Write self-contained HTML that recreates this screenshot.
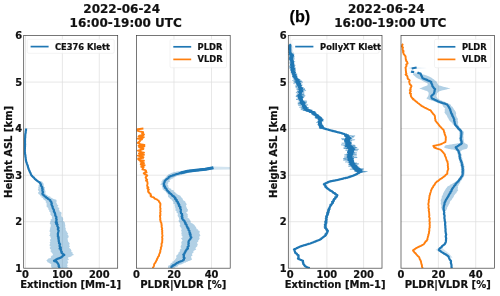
<!DOCTYPE html>
<html><head><meta charset="utf-8"><title>Lidar profiles 2022-06-24</title>
<style>html,body{margin:0;padding:0;background:#fff}svg{display:block}</style></head>
<body>
<svg width="500" height="296" viewBox="0 0 500 296">
<rect width="500" height="296" fill="#ffffff"/>
<defs>
<clipPath id="c0"><rect x="23.7" y="35.6" width="94.0" height="232.6"/></clipPath>
<clipPath id="c1"><rect x="136.5" y="35.6" width="93.7" height="232.6"/></clipPath>
<clipPath id="c2"><rect x="288.3" y="35.6" width="93.7" height="232.6"/></clipPath>
<clipPath id="c3"><rect x="401.0" y="35.6" width="93.4" height="232.6"/></clipPath>
</defs>
<g stroke="#dedede" stroke-width="0.7"><line x1="23.7" y1="221.7" x2="117.7" y2="221.7"/><line x1="23.7" y1="175.2" x2="117.7" y2="175.2"/><line x1="23.7" y1="128.6" x2="117.7" y2="128.6"/><line x1="23.7" y1="82.1" x2="117.7" y2="82.1"/><line x1="25.5" y1="35.6" x2="25.5" y2="268.2"/><line x1="62.4" y1="35.6" x2="62.4" y2="268.2"/><line x1="99.3" y1="35.6" x2="99.3" y2="268.2"/></g>
<g stroke="#dedede" stroke-width="0.7"><line x1="136.5" y1="221.7" x2="230.2" y2="221.7"/><line x1="136.5" y1="175.2" x2="230.2" y2="175.2"/><line x1="136.5" y1="128.6" x2="230.2" y2="128.6"/><line x1="136.5" y1="82.1" x2="230.2" y2="82.1"/><line x1="174.0" y1="35.6" x2="174.0" y2="268.2"/><line x1="211.5" y1="35.6" x2="211.5" y2="268.2"/></g>
<g stroke="#dedede" stroke-width="0.7"><line x1="288.3" y1="221.7" x2="382.0" y2="221.7"/><line x1="288.3" y1="175.2" x2="382.0" y2="175.2"/><line x1="288.3" y1="128.6" x2="382.0" y2="128.6"/><line x1="288.3" y1="82.1" x2="382.0" y2="82.1"/><line x1="290.1" y1="35.6" x2="290.1" y2="268.2"/><line x1="326.9" y1="35.6" x2="326.9" y2="268.2"/><line x1="363.6" y1="35.6" x2="363.6" y2="268.2"/></g>
<g stroke="#dedede" stroke-width="0.7"><line x1="401.0" y1="221.7" x2="494.4" y2="221.7"/><line x1="401.0" y1="175.2" x2="494.4" y2="175.2"/><line x1="401.0" y1="128.6" x2="494.4" y2="128.6"/><line x1="401.0" y1="82.1" x2="494.4" y2="82.1"/><line x1="438.4" y1="35.6" x2="438.4" y2="268.2"/><line x1="475.7" y1="35.6" x2="475.7" y2="268.2"/></g>
<g clip-path="url(#c0)">
<polygon points="39.5,181.0 39.0,181.8 39.7,182.7 38.5,183.5 39.3,184.3 38.9,185.1 38.2,185.9 38.9,186.7 38.0,187.5 38.6,188.3 37.9,189.2 38.0,190.0 38.6,190.9 39.3,191.7 38.0,192.6 38.2,193.4 38.9,194.3 40.2,194.9 40.2,195.5 40.5,196.2 42.2,196.8 41.2,197.4 43.3,198.0 43.0,198.6 43.4,199.2 44.0,199.8 45.1,200.4 46.2,201.2 45.3,201.9 46.3,202.7 46.7,203.4 46.4,204.2 47.0,205.0 46.4,205.7 46.6,206.5 47.2,207.3 48.4,208.0 48.2,208.8 48.4,209.6 49.2,210.3 49.3,211.1 49.3,211.8 50.5,212.6 50.6,213.4 50.1,214.2 51.0,215.0 51.2,215.7 52.1,216.5 52.1,217.3 51.6,218.1 52.5,218.8 50.5,219.6 50.7,220.3 50.9,221.1 49.8,221.9 50.4,222.8 49.6,223.6 50.7,224.5 50.9,225.3 50.5,226.2 50.9,227.0 49.7,227.9 50.3,228.8 49.9,229.6 49.7,230.5 49.3,231.3 50.1,232.1 50.4,233.0 49.7,233.8 50.1,234.6 49.1,235.5 50.4,236.3 50.3,237.2 51.0,238.0 50.8,238.9 49.8,239.8 50.1,240.7 50.6,241.5 49.5,242.4 50.3,243.3 49.8,244.1 49.7,245.0 49.6,245.9 50.9,246.8 49.7,247.6 49.9,248.5 50.4,249.3 51.5,250.1 50.2,251.0 51.1,251.8 51.5,252.6 52.5,253.4 52.7,254.2 53.2,255.0 51.6,255.7 51.3,256.3 50.7,257.0 51.1,257.6 50.6,258.1 48.4,258.6 47.8,259.1 47.3,259.7 46.6,260.2 46.4,260.7 47.2,261.2 47.3,261.7 47.5,262.2 48.9,262.7 49.5,263.2 50.5,263.7 51.4,264.6 51.1,265.4 51.0,266.3 51.4,267.1 51.7,268.0 69.1,268.0 67.2,267.1 67.2,266.3 67.7,265.4 67.1,264.6 67.4,263.7 68.2,262.7 68.1,261.7 67.1,260.7 68.5,259.9 68.9,259.1 67.8,258.4 68.0,257.6 68.8,257.2 70.6,256.7 71.7,256.3 71.5,255.9 72.2,255.4 73.9,255.0 73.4,254.2 72.3,253.4 72.8,252.6 71.3,251.9 71.4,251.2 71.5,250.6 71.1,249.9 70.9,249.2 70.0,248.5 68.8,247.6 70.0,246.8 69.5,245.9 69.1,245.0 69.6,244.1 69.6,243.3 68.9,242.4 68.0,241.5 67.9,240.7 67.8,239.8 67.6,238.9 67.7,238.0 68.7,237.2 68.6,236.3 68.4,235.5 67.4,234.6 68.2,233.8 67.6,233.0 66.8,232.1 66.7,231.3 65.9,230.5 65.6,229.6 65.8,228.8 65.7,227.9 64.9,227.0 65.4,226.2 65.3,225.3 65.1,224.5 64.9,223.6 64.9,222.8 64.4,221.9 63.1,221.1 63.0,220.1 63.4,219.1 62.7,218.1 62.8,217.3 61.4,216.5 61.5,215.7 61.0,215.0 61.5,214.2 61.5,213.4 61.5,212.6 60.3,211.8 59.1,211.1 59.7,210.3 58.7,209.6 59.1,208.8 59.5,208.0 57.6,207.3 57.5,206.5 58.5,205.6 57.2,204.8 57.1,203.9 56.5,203.0 56.2,202.1 56.7,201.3 56.4,200.4 56.6,200.0 55.6,199.5 53.5,199.1 53.1,198.7 52.3,198.3 51.3,197.8 50.4,197.4 50.4,196.9 50.1,196.4 47.8,195.9 47.7,195.3 46.4,194.8 45.8,194.3 45.4,193.4 45.3,192.6 45.7,191.7 45.2,190.9 45.2,190.0 44.8,189.2 44.6,188.3 45.2,187.5 43.8,186.7 43.9,185.9 43.5,185.1 43.8,184.3 43.5,183.5 42.7,182.7 42.3,181.8 40.2,181.0" fill="#1f77b4" fill-opacity="0.35" stroke="none"/>
<polyline points="26.1,128.5 26.0,129.4 26.0,130.3 25.7,131.2 25.7,132.2 25.6,133.1 25.3,134.0 25.3,134.9 25.2,135.8 25.2,136.7 25.2,137.6 25.0,138.5 25.0,139.4 24.9,140.3 25.1,141.1 24.9,141.9 25.0,142.7 25.0,143.6 25.1,144.4 24.9,145.2 25.1,146.0 24.9,146.8 24.9,147.6 24.9,148.4 24.8,149.2 24.9,150.1 24.8,150.9 24.8,151.7 25.0,152.5 24.9,153.3 25.1,154.1 25.3,154.9 25.4,155.7 25.4,156.6 25.6,157.4 25.7,158.2 25.9,159.0 25.8,159.8 26.0,160.6 26.2,161.4 26.4,162.2 26.8,163.0 27.0,163.8 27.3,164.6 27.6,165.5 27.9,166.3 28.0,167.1 28.3,167.9 28.5,168.7 28.8,169.5 29.2,170.3 29.5,171.1 29.9,171.9 30.2,172.7 30.7,173.5 30.9,174.3 31.3,175.1 31.9,175.7 32.3,176.2 32.9,176.8 33.6,177.4 34.2,178.0 34.5,178.5 35.1,179.1 35.8,179.6 36.3,180.1 37.0,180.6 37.6,181.1 38.4,181.7 39.1,182.2 39.8,182.7 40.2,183.2 40.7,184.0 41.0,184.9 41.0,185.8 41.9,186.6 42.3,187.5 42.1,188.3 42.7,189.2 42.3,190.0 42.5,190.9 42.9,191.7 42.9,192.6 42.4,193.4 42.6,194.3 43.3,194.8 43.8,195.3 44.3,195.9 45.0,196.4 46.0,196.9 46.0,197.4 47.1,197.9 47.7,198.4 48.0,198.9 48.9,199.4 49.8,199.9 50.4,200.4 50.3,201.2 51.3,201.9 51.4,202.7 51.8,203.4 51.4,204.2 51.8,205.0 51.9,205.7 52.7,206.5 52.6,207.3 52.7,208.0 53.2,208.8 53.8,209.6 54.0,210.3 53.8,211.1 54.0,211.8 54.8,212.6 54.9,213.4 55.3,214.3 55.2,215.1 55.5,216.0 56.3,216.8 56.4,217.7 56.1,218.6 56.7,219.6 56.3,220.5 56.6,221.4 55.7,222.2 57.1,223.0 56.1,223.8 57.6,224.6 57.2,225.4 57.3,226.2 57.8,227.0 58.6,227.9 57.9,228.8 57.9,229.6 58.7,230.5 58.5,231.3 58.2,232.1 58.1,233.0 57.8,233.8 57.9,234.6 58.0,235.5 57.8,236.3 58.7,237.2 58.2,238.0 58.7,238.9 58.5,239.8 58.9,240.7 58.7,241.5 59.2,242.4 59.0,243.3 60.1,244.1 59.9,245.0 59.5,245.9 60.0,246.8 60.8,247.6 59.6,248.5 61.0,249.3 60.7,250.1 61.0,251.0 61.8,251.8 61.4,252.6 62.3,253.4 63.2,254.2 64.3,255.0 62.6,255.7 62.6,256.3 61.7,257.0 60.8,257.6 59.7,258.0 58.8,258.4 57.6,258.8 57.0,259.1 56.1,259.5 56.4,259.9 54.9,260.3 54.0,260.7 54.5,261.2 56.3,261.7 57.1,262.2 57.4,262.7 57.5,263.2 58.1,263.7 58.4,264.6 58.9,265.4 58.6,266.3 59.3,267.1 59.2,268.0" fill="none" stroke="#1f77b4" stroke-width="2.2" stroke-linejoin="round" stroke-linecap="butt" />
</g>
<g clip-path="url(#c1)">
<polygon points="184.8,170.6 184.0,170.7 182.3,170.8 180.9,171.0 181.3,171.1 179.3,171.2 178.5,171.3 177.0,171.5 176.8,171.6 176.1,171.8 175.2,172.1 173.8,172.3 173.4,172.6 171.6,172.8 171.3,173.2 170.3,173.5 170.1,173.8 168.7,174.2 168.0,174.7 167.8,175.2 167.0,175.6 167.0,176.1 166.3,176.6 166.0,177.2 165.2,177.8 164.6,178.4 164.3,179.0 162.8,179.6 162.0,180.2 162.9,181.0 161.1,181.8 161.8,182.6 161.4,183.4 160.0,184.2 161.7,185.0 162.1,185.8 161.9,186.7 162.4,187.5 162.9,188.3 162.2,189.0 163.5,189.7 164.0,190.4 165.2,191.0 165.7,191.7 166.3,192.4 166.5,193.1 167.5,193.8 167.7,194.6 168.2,195.3 167.9,196.0 168.1,196.8 168.8,197.5 169.8,198.1 169.8,198.8 171.6,199.4 171.7,200.1 172.3,200.7 172.8,201.3 173.4,202.0 173.6,202.6 173.0,203.4 174.6,204.1 174.8,204.9 174.6,205.6 174.9,206.4 175.4,207.2 174.6,207.9 176.0,208.7 175.4,209.5 175.3,210.2 175.9,211.0 177.0,211.8 176.3,212.5 177.5,213.3 178.2,214.0 177.6,214.8 177.6,215.6 178.0,216.5 178.6,217.3 179.0,218.1 179.0,219.0 179.3,219.8 178.5,220.6 178.8,221.4 179.2,222.2 180.3,223.0 179.7,223.8 180.4,224.6 179.6,225.4 179.9,226.2 180.4,227.1 181.3,227.9 181.5,228.8 181.6,229.7 181.0,230.6 181.6,231.4 181.6,232.3 181.6,233.2 181.0,234.0 182.4,234.9 181.2,235.7 182.6,236.6 182.5,237.4 180.8,238.2 181.6,239.1 182.3,239.9 182.5,240.7 181.6,241.6 181.3,242.4 181.0,243.3 182.2,244.1 180.8,245.0 181.3,245.9 180.3,246.8 180.9,247.6 181.5,248.5 179.7,249.3 180.5,250.0 179.6,250.8 179.8,251.6 179.1,252.3 177.9,253.1 178.7,253.8 177.6,254.6 176.4,255.4 176.0,256.3 176.6,257.1 176.2,258.0 175.6,258.8 175.0,259.7 174.7,260.2 173.9,260.7 174.2,261.2 172.0,261.7 172.7,262.2 172.2,262.7 170.3,263.3 171.1,263.9 170.1,264.6 169.8,265.2 168.1,265.8 168.1,266.9 167.9,268.0 174.1,268.0 175.2,267.4 175.5,266.9 177.7,266.4 177.9,265.8 178.2,265.5 178.7,265.1 179.4,264.8 180.7,264.4 182.4,264.1 182.0,263.7 183.6,263.4 183.4,263.0 184.2,262.7 186.1,262.4 185.9,262.0 187.9,261.7 187.3,261.4 188.7,261.0 189.9,260.7 190.8,260.4 190.5,260.0 192.1,259.7 191.7,258.8 191.5,258.0 191.0,257.1 191.3,256.3 192.6,255.4 192.1,254.6 191.8,253.9 192.6,253.2 193.5,252.6 193.6,251.9 193.2,251.2 194.2,250.5 195.4,249.9 196.3,249.2 195.4,248.5 195.7,247.7 196.4,247.0 197.3,246.2 197.2,245.4 198.0,244.7 197.3,243.9 197.3,243.2 197.0,242.4 198.4,241.6 198.1,240.7 198.7,239.9 199.4,239.1 199.7,238.2 199.2,237.4 199.3,236.6 200.4,235.7 200.2,234.9 199.6,234.0 199.3,233.2 199.6,232.3 199.7,231.6 199.6,230.9 197.8,230.3 198.2,229.6 196.3,228.9 196.7,228.2 196.0,227.6 195.9,226.9 195.2,226.2 194.7,225.6 194.5,224.9 193.5,224.3 192.6,223.6 191.3,223.0 190.7,222.4 190.3,221.7 191.0,221.1 190.2,220.4 189.6,219.8 189.5,219.0 188.2,218.1 187.2,217.3 188.0,216.5 187.5,215.6 187.9,214.8 187.6,213.9 186.4,213.1 186.3,212.2 187.9,211.3 187.8,210.4 188.0,209.6 187.1,208.7 186.8,207.8 186.3,207.0 186.2,206.1 185.9,205.2 186.9,204.3 186.2,203.5 185.8,202.6 184.6,202.0 185.6,201.3 183.9,200.7 183.0,200.1 182.9,199.4 182.5,198.8 182.3,198.1 181.5,197.5 180.9,196.9 180.8,196.4 180.4,195.8 179.2,195.3 178.0,194.8 177.3,194.2 176.4,193.7 176.2,193.1 175.1,192.6 174.6,192.1 173.8,191.7 173.7,191.2 174.0,190.7 173.2,190.2 171.3,189.7 171.1,189.3 171.2,188.8 169.3,188.3 168.8,187.5 168.3,186.7 168.3,185.8 168.1,185.0 167.2,184.2 168.3,183.4 168.0,182.6 169.8,181.8 169.8,181.0 169.4,180.2 170.2,179.8 171.2,179.3 171.3,178.8 173.4,178.4 172.6,177.9 173.7,177.5 175.0,177.0 176.0,176.6 176.2,176.3 177.6,176.1 177.2,175.8 179.2,175.5 179.8,175.3 181.3,175.0 182.1,174.7 182.4,174.5 183.6,174.2 184.5,174.0 185.5,173.8 185.3,173.6 185.9,173.4 187.3,173.2 187.7,173.0 188.5,172.8 190.6,172.6 190.3,172.5 192.2,172.3 191.7,172.1 192.5,171.9 193.7,171.8 194.9,171.6 195.7,171.3 197.2,170.9 198.9,170.6" fill="#1f77b4" fill-opacity="0.35" stroke="none"/>
<polyline points="143.4,128.5 137.6,129.2 137.1,129.9 137.2,130.7 139.6,131.4 143.2,132.1 143.1,132.8 142.1,133.6 144.0,134.3 143.6,135.0 139.4,135.7 138.5,136.4 143.8,137.1 142.5,137.9 137.5,138.6 142.0,139.3 140.1,140.0 140.1,140.7 139.8,141.4 138.7,142.1 137.6,142.9 139.6,143.6 140.1,144.3 144.4,145.0 138.5,145.7 144.4,146.4 139.1,147.1 140.1,147.8 143.4,148.5 143.3,149.2 140.6,149.9 137.9,150.6 140.8,151.3 140.1,152.0 144.0,152.7 138.9,153.5 140.2,154.2 144.0,154.9 137.9,155.6 140.6,156.4 143.5,157.1 143.2,157.8 138.2,158.5 138.2,159.3 139.1,160.0 143.9,160.8 140.3,161.5 143.1,162.3 144.0,163.1 141.0,163.8 140.7,164.6 144.6,165.3 142.8,166.1 141.2,166.8 143.6,167.4 142.7,168.1 142.9,168.8 142.4,169.4 145.4,170.1 146.1,170.9 145.4,171.7 146.6,172.4 143.7,173.2 144.6,174.0 145.5,174.7 147.3,175.4 146.7,176.2 145.8,176.9 145.6,177.6 146.1,178.3 146.3,179.1 147.2,179.8 146.0,180.6 147.2,181.3 147.3,182.1 147.5,182.8 147.6,183.6 147.4,184.3 147.1,185.1 147.2,185.8 147.5,186.6 148.4,187.4 147.3,188.1 147.7,188.9 148.9,189.6 148.1,190.4 148.1,191.1 148.2,191.9 149.4,192.6 149.3,193.3 150.7,194.0 150.7,194.8 151.2,195.5 150.5,195.9 150.9,196.4 151.6,196.8 153.0,197.2 154.0,197.7 154.2,198.1 154.5,198.5 155.5,198.9 156.6,199.3 157.3,199.8 157.9,200.2 158.6,200.6 158.9,201.2 159.0,201.8 159.8,202.4 159.9,203.0 160.4,203.6 160.3,204.3 160.5,205.0 160.2,205.7 160.2,206.4 160.2,207.1 160.2,207.9 160.6,208.6 160.4,209.3 160.3,210.0 160.3,210.7 160.7,211.4 160.3,212.2 160.1,212.9 160.4,213.7 160.3,214.4 160.5,215.1 159.9,215.9 160.1,216.6 160.2,217.4 160.2,218.1 160.4,218.9 160.1,219.6 160.4,220.4 160.5,221.1 160.7,221.9 161.3,222.7 161.3,223.4 161.7,224.2 161.4,224.9 161.8,225.7 161.6,226.4 161.6,227.1 162.0,227.9 162.2,228.6 161.8,229.4 162.2,230.1 162.3,230.8 162.1,231.6 162.3,232.3 162.2,233.0 162.2,233.8 162.3,234.5 162.5,235.2 162.5,236.0 162.2,236.7 162.1,237.5 162.3,238.2 162.5,238.9 162.2,239.7 162.3,240.4 162.1,241.2 162.3,241.9 162.1,242.7 161.6,243.4 161.5,244.2 161.6,245.0 161.6,245.7 161.5,246.5 161.0,247.3 160.8,248.0 161.0,248.8 160.6,249.6 160.4,250.3 160.2,251.1 160.4,251.8 159.9,252.6 159.8,253.3 159.3,254.0 159.1,254.6 159.1,255.3 158.9,256.0 158.2,256.7 157.8,257.3 157.8,258.0 157.2,258.7 156.8,259.3 157.0,259.9 156.3,260.6 156.2,261.2 155.7,261.8 155.6,262.4 155.0,263.1 154.5,263.7 154.1,264.4 154.1,265.1 153.9,265.9 153.7,266.6 153.0,267.3 153.0,268.0" fill="none" stroke="#ff7f0e" stroke-width="1.9" stroke-linejoin="round" stroke-linecap="butt" />
<polygon points="186,170.6 213,166.4 230,167.0 230,169.6 214,169.8 198,171.2" fill="#1f77b4" fill-opacity="0.2"/>
<polyline points="213.4,167.7 205.3,169.2 196.0,170.2 187.5,171.3 181.0,172.9" fill="none" stroke="#1f77b4" stroke-width="3.0" stroke-linejoin="round" stroke-linecap="butt" />
<polyline points="213.2,167.7 212.6,167.9 211.4,168.0 210.7,168.2 210.2,168.3 209.9,168.5 208.1,168.7 207.7,168.8 207.3,169.0 206.7,169.1 204.9,169.3 204.0,169.4 204.2,169.5 203.4,169.6 202.0,169.6 200.7,169.7 201.0,169.8 199.5,169.9 199.3,170.0 198.2,170.1 197.6,170.2 196.0,170.2 195.9,170.3 194.4,170.4 193.9,170.5 193.6,170.6 192.7,170.7 191.2,170.8 190.4,170.9 189.8,170.9 189.1,171.0 188.2,171.1 187.0,171.2 186.4,171.4 186.1,171.6 185.5,171.8 183.7,172.1 183.5,172.3 182.9,172.5 181.2,172.7 181.4,172.9 179.7,173.1 179.5,173.3 178.6,173.6 177.9,173.8 176.7,174.0 176.0,174.2 175.4,174.5 174.4,174.8 173.9,175.1 172.8,175.4 172.0,175.7 170.7,176.0 170.6,176.3 169.6,176.6 168.6,177.2 168.6,177.8 167.9,178.4 166.9,179.0 165.9,179.6 165.6,180.2 164.8,181.0 164.5,181.8 164.5,182.6 163.8,183.4 163.8,184.2 164.3,185.0 164.0,185.8 165.1,186.7 164.8,187.5 165.9,188.3 166.5,189.0 166.8,189.7 166.8,190.4 167.9,191.0 168.3,191.7 169.6,192.4 169.2,193.1 170.6,193.7 171.4,194.2 171.7,194.8 172.4,195.3 172.3,195.8 173.9,196.4 173.9,196.9 175.0,197.5 175.5,198.2 175.0,198.8 176.2,199.5 176.8,200.1 176.3,200.8 177.1,201.4 178.0,202.1 177.6,202.8 178.8,203.6 178.4,204.3 179.4,205.0 178.9,205.8 179.7,206.5 180.5,207.2 180.0,208.0 180.4,208.7 180.9,209.6 180.8,210.4 180.6,211.3 180.9,212.2 181.0,213.1 182.1,213.9 181.9,214.8 182.3,215.6 181.6,216.5 182.5,217.3 181.9,218.1 182.6,219.0 182.9,219.8 183.5,220.1 184.5,220.9 184.5,221.6 185.0,222.4 185.7,223.1 185.2,223.9 186.6,224.7 186.6,225.4 186.7,226.2 187.5,227.0 187.3,227.7 188.5,228.5 188.4,229.2 188.5,230.0 189.4,230.8 189.4,231.5 189.4,232.3 190.3,233.2 189.6,234.0 190.7,234.9 190.2,235.7 190.8,236.6 191.4,237.4 190.6,238.2 190.3,239.1 189.6,239.9 188.9,240.7 188.6,241.6 188.4,242.4 188.8,243.3 188.4,244.1 188.4,245.0 188.7,245.9 187.6,246.8 187.6,247.6 188.0,248.5 186.8,249.2 186.3,249.9 186.3,250.5 185.5,251.2 185.4,251.9 184.7,252.6 184.7,253.2 184.3,253.9 183.3,254.6 183.9,255.4 183.9,256.3 183.6,257.1 184.6,258.0 183.9,258.8 183.9,259.7 183.1,260.0 183.0,260.4 182.5,260.7 181.7,261.0 180.5,261.4 179.6,261.7 178.5,262.0 178.5,262.4 177.7,262.7 176.7,263.1 176.3,263.6 175.4,264.0 175.3,264.5 174.3,264.9 173.0,265.4 173.1,265.8 171.5,266.5 171.5,267.3 170.8,268.0" fill="none" stroke="#1f77b4" stroke-width="2.2" stroke-linejoin="round" stroke-linecap="butt" />
</g>
<g clip-path="url(#c2)">
<polyline points="288.3,44.6 287.1,45.1 292.1,45.6 286.9,46.2 290.6,46.7 293.3,47.2 287.9,47.7 288.3,48.2 291.1,48.7 290.5,49.3 291.4,49.8 292.6,50.3 288.4,50.8 289.4,51.3 289.4,51.8 287.8,52.3 293.6,52.8 293.0,53.3 292.7,53.9 287.9,54.4 293.7,54.9 293.2,55.4 291.4,55.9 293.3,56.4 291.4,56.9 289.8,57.4 289.0,57.9 289.9,58.4 288.6,58.9 290.6,59.5 293.4,60.0 293.0,60.5 294.0,61.0 293.1,61.5 290.1,62.0 292.1,62.5 291.3,63.0 293.8,63.5 292.1,64.0 290.4,64.5 293.0,65.0 295.3,65.5 290.2,66.0 294.8,66.5 289.0,67.0 290.7,67.5 290.6,68.0 294.2,68.5 295.6,69.0 294.4,69.5 291.7,70.0 295.6,70.5 291.9,71.0 291.4,71.6 296.1,72.1 294.3,72.6 294.9,73.1 294.8,73.6 297.2,74.1 293.9,74.5 296.7,75.0 296.0,75.5 297.3,75.9 294.6,76.4 296.8,76.8 296.0,77.3 294.4,77.8 294.0,78.2 297.0,78.7 293.7,79.1 299.7,79.6 293.5,80.0 292.5,80.5 293.5,81.0 302.3,81.5 296.4,82.0 294.5,82.5 293.5,83.1 293.8,83.6 300.8,84.1 300.4,84.6 301.2,85.1 301.9,85.6 295.1,86.1 300.7,86.6 298.6,87.1 303.5,87.6 303.7,88.1 304.7,88.6 296.3,89.1 304.8,89.6 305.5,90.1 305.7,90.6 296.9,91.1 297.8,91.6 296.8,92.1 295.9,92.7 304.2,93.2 303.7,93.7 301.8,94.2 303.7,94.7 301.6,95.2 298.1,95.7 296.2,96.2 296.3,96.7 303.3,97.2 297.6,97.8 298.9,98.3 300.1,98.8 296.0,99.3 298.6,99.8 298.9,100.3 303.6,100.8 300.2,101.2 299.9,101.7 306.8,102.2 302.2,102.6 306.0,103.1 303.8,103.5 297.8,104.0 302.0,104.5 302.4,104.9 306.1,105.4 302.0,105.9 306.0,106.3 304.6,106.8 301.6,107.3 308.6,107.7 300.8,108.2 308.7,108.7 302.3,109.1 300.8,109.6 303.4,109.8 309.7,110.0 312.4,110.2 302.8,110.4 308.4,110.6 308.9,110.8 312.5,111.0 306.7,111.1 310.4,111.3 309.3,111.5 314.9,111.7 309.4,111.9 316.0,112.1 311.2,112.3 311.1,112.5 315.4,112.9 314.1,113.2 311.4,113.6 316.0,114.0 311.9,114.3 317.9,114.7 317.6,115.0 318.7,115.4 317.8,115.8 316.0,116.1 316.7,116.5 317.0,116.9 321.3,117.2 315.3,117.6 322.0,118.0 315.5,118.3 317.3,118.7 318.1,119.1 323.6,119.4 320.7,119.8 319.6,120.3 323.6,120.9 318.3,121.4 320.0,122.0 320.5,122.5 322.1,123.1 322.0,123.6 321.4,124.1 319.2,124.6 319.2,125.1 318.0,125.7 323.7,126.2 322.4,126.7 323.2,127.2 318.9,127.7 321.5,127.8 324.7,128.0 323.1,128.1 322.7,128.3 323.8,128.4 325.2,128.6 324.4,128.7 324.8,128.8 325.5,129.0 326.7,129.1 327.5,129.3 326.6,129.4 327.1,129.5 327.8,129.7 328.4,129.8 329.3,130.0 329.1,130.1 329.9,130.3 330.1,130.4 332.2,130.5 332.2,130.7 331.4,130.8 333.6,130.9 332.4,131.0 333.5,131.2 335.2,131.3 335.3,131.4 335.7,131.5 335.6,131.7 335.6,131.8 337.0,131.9 336.5,132.0 337.2,132.2 338.1,132.3 337.8,132.4 339.1,132.5 340.4,132.7 340.7,132.8 340.8,132.9 341.5,133.1 341.7,133.2 341.5,133.4 342.9,133.6 343.0,133.7 344.1,133.9 344.9,134.1 344.4,134.2 345.2,134.4 346.0,134.6 345.8,134.7 345.9,134.9 347.4,135.1 348.2,135.2 348.4,135.4 350.9,135.9 353.2,136.5 350.6,137.0 350.0,137.5 347.2,138.0 345.1,138.6 349.8,139.1 341.9,139.6 346.7,140.1 352.1,140.7 351.1,141.2 349.9,141.7 344.3,142.2 346.9,142.7 347.5,143.2 350.0,143.8 346.9,144.3 350.9,144.8 354.8,145.3 343.7,145.8 350.8,146.3 353.1,146.6 347.6,147.0 349.5,147.3 357.2,147.6 343.5,148.0 351.5,148.3 346.1,148.6 355.8,149.0 358.6,149.3 352.1,149.8 345.5,150.2 352.4,150.7 351.7,151.1 354.1,151.6 350.8,152.0 352.5,152.5 355.1,152.9 350.2,153.4 348.6,153.9 356.6,154.4 345.6,154.9 352.7,155.4 348.3,155.9 353.8,156.5 344.2,157.0 357.2,157.5 347.7,158.0 343.2,158.5 346.7,159.0 348.8,159.5 343.2,160.0 349.5,160.5 349.8,161.0 354.1,161.5 349.2,162.0 348.1,162.5 347.7,163.0 355.6,163.5 358.9,163.9 353.0,164.3 348.7,164.7 357.7,165.1 351.9,165.6 349.5,166.0 348.5,166.4 358.5,166.8 359.3,167.2 357.0,167.6 355.0,167.9 356.8,168.2 352.2,168.6 363.7,168.9 354.9,169.2 359.6,169.5 362.7,169.9 363.1,170.2 358.3,170.5 356.1,170.8 360.4,171.2 354.5,171.5 365.5,171.8 359.6,172.1 360.7,172.4 358.5,172.6 358.3,172.9 357.5,173.2 357.6,173.5 356.4,173.8 355.4,174.0 357.1,174.3 355.3,174.6 354.8,174.8 354.4,174.9 354.5,175.1 353.9,175.3 354.0,175.5 353.6,175.7 352.2,175.8 353.4,176.0 352.7,176.2 349.9,176.3 351.7,176.5 351.4,176.7 350.6,176.9 348.2,177.1 349.8,177.2 348.7,177.4 346.4,177.5 345.8,177.6 348.2,177.7 346.8,177.9 345.1,178.0 344.1,178.1 343.8,178.2 343.5,178.3 344.7,178.4 342.9,178.6 341.8,178.7 343.6,178.8 342.7,178.9 340.4,179.0 342.1,179.1 340.7,179.3 340.7,179.4 339.9,179.5 340.1,179.6 339.3,179.7 338.9,179.8 336.5,179.9 337.5,180.0 336.5,180.1 336.6,180.2 335.2,180.3 336.0,180.4 334.6,180.5 333.2,180.7 332.6,180.8 331.8,180.9 332.4,181.0 330.6,181.1 331.3,181.2 329.8,181.3 330.4,181.4 329.9,181.5 329.5,181.6 330.0,181.8 327.0,182.0 329.0,182.3 327.4,182.5 327.2,182.7 327.1,182.9 327.1,183.1 325.2,183.3 324.9,183.6 326.1,183.8 322.9,184.0 324.9,184.5 325.1,184.9 323.5,185.4 325.5,185.9 326.0,186.4 327.0,186.8 325.4,187.3 327.9,187.6 326.8,188.0 327.2,188.3 328.9,188.6 326.6,188.9 329.2,189.2 329.4,189.6 328.9,189.9 331.0,190.2 329.9,190.5 330.7,190.8 331.4,191.0 332.6,191.3 331.3,191.6 332.5,191.9 332.9,192.2 333.7,192.5 334.9,192.9 333.6,193.2 335.7,193.5 334.8,193.8 335.5,194.1 335.2,194.4 336.3,194.8 338.2,195.1 337.6,195.4 337.8,195.8 336.0,196.2 335.7,196.7 335.3,197.1 336.0,197.5 335.8,197.9 336.0,198.3 333.4,198.7 335.3,199.2 335.5,199.6 334.1,200.0 332.3,200.4 332.8,200.9 331.6,201.3 331.9,201.8 334.0,202.3 332.7,202.7 332.6,203.2 332.7,203.6 332.8,204.1 331.6,204.6 331.3,205.0 331.1,205.5 331.1,206.0 330.6,206.4 330.7,206.9 329.0,207.4 330.3,207.8 329.4,208.3 330.2,208.7 327.9,209.2 328.0,209.7 327.3,210.1 329.5,210.6 329.8,211.1 328.8,211.6 327.7,212.1 329.0,212.6 328.7,213.1 327.8,213.6 326.7,214.1 326.7,214.6 326.9,215.1 326.4,215.6 326.7,216.1 327.3,216.6 328.1,217.1 325.2,217.6 326.7,218.1 324.9,218.5 325.1,219.0 327.2,219.5 326.3,220.0 327.3,220.5 325.7,221.0 324.3,221.5 325.4,222.0 326.0,222.5 327.1,223.0 327.1,223.5 325.5,224.0 325.2,224.5 324.2,225.0 325.8,225.5 324.4,226.0 324.1,226.5 323.6,227.0 323.9,227.5 326.3,228.0 324.8,228.4 327.8,228.9 325.2,229.4 328.0,229.9 325.9,230.3 325.8,230.8 328.3,231.3 326.5,231.8 327.8,232.3 325.8,232.8 325.2,233.3 327.2,233.8 326.8,234.3 327.0,234.8 326.0,235.3 324.5,235.6 325.0,235.9 324.8,236.2 324.0,236.6 324.3,236.9 322.9,237.2 323.6,237.5 322.8,237.8 321.3,238.1 320.9,238.5 321.5,238.8 321.4,239.1 319.8,239.4 319.7,239.6 319.9,239.8 318.5,240.0 319.2,240.2 318.1,240.4 316.9,240.5 316.9,240.7 316.8,240.9 316.1,241.1 316.0,241.3 314.6,241.5 315.2,241.7 314.0,241.9 314.0,242.1 313.5,242.3 312.7,242.4 312.1,242.6 312.3,242.8 312.1,243.0 311.3,243.2 310.5,243.4 309.6,243.5 308.7,243.7 309.7,243.8 308.8,244.0 308.5,244.1 307.2,244.3 307.2,244.4 307.3,244.6 306.6,244.7 305.7,244.9 304.8,245.0 304.5,245.2 304.7,245.3 303.4,245.5 303.4,245.6 302.8,245.8 302.8,245.9 302.1,246.1 300.8,246.2 299.9,246.4 299.8,246.5 299.6,246.7 299.4,247.0 299.3,247.2 298.9,247.4 297.1,247.7 297.9,247.9 297.4,248.1 297.0,248.3 296.1,248.6 295.1,248.8 295.6,249.0 295.1,249.3 294.4,249.5 294.9,250.0 294.2,250.5 294.0,251.1 294.9,251.6 295.5,252.1 294.7,252.6 296.0,252.9 296.6,253.3 295.9,253.6 296.9,253.9 297.4,254.3 297.4,254.6 297.4,254.9 297.8,255.3 299.0,255.6 299.0,256.1 298.4,256.6 297.7,257.1 298.8,257.7 298.7,258.2 297.8,258.7 298.8,258.9 299.8,259.1 300.3,259.4 300.2,259.6 300.7,259.8 301.3,260.0 301.2,260.3 301.7,260.5 302.2,260.7 303.1,261.2 302.7,261.7 303.1,262.2 302.9,262.7 303.2,263.2 302.7,263.7 302.9,264.1 304.8,264.6 304.1,265.0 304.0,265.5 305.2,265.9 305.8,266.4 305.3,266.6 306.5,266.8 306.6,267.1 307.4,267.3 307.1,267.5 307.6,267.8 309.7,268.0 310.0,268.2" fill="none" stroke="#1f77b4" stroke-width="1.0" stroke-linejoin="round" stroke-linecap="butt" stroke-opacity="0.38"/>
<polyline points="290.0,44.6 290.6,45.1 288.6,45.6 292.1,46.2 289.7,46.7 293.3,47.2 292.1,47.7 292.5,48.2 293.5,48.7 288.8,49.3 287.3,49.8 288.5,50.3 288.4,50.8 287.9,51.3 287.7,51.8 291.3,52.3 293.5,52.8 290.8,53.3 294.2,53.9 294.1,54.4 288.4,54.9 292.2,55.4 290.9,55.9 289.1,56.4 294.8,56.9 290.0,57.4 292.1,57.9 292.7,58.4 294.8,58.9 292.9,59.5 291.0,60.0 291.3,60.5 289.4,61.0 294.9,61.5 295.0,62.0 289.8,62.5 288.6,63.0 290.2,63.5 290.9,64.0 294.7,64.5 294.8,65.0 294.4,65.5 289.1,66.0 294.2,66.5 293.7,67.0 293.4,67.5 295.7,68.0 289.5,68.5 290.2,69.0 294.5,69.5 295.8,70.0 294.2,70.5 291.7,71.0 293.8,71.6 295.1,72.1 290.8,72.6 292.4,73.1 292.0,73.6 291.4,74.1 294.0,74.5 292.1,75.0 292.8,75.5 292.4,75.9 296.3,76.4 292.0,76.8 297.0,77.3 293.7,77.8 292.8,78.2 299.1,78.7 294.6,79.1 299.8,79.6 301.0,80.0 301.4,80.5 293.9,81.0 297.3,81.5 293.8,82.0 302.7,82.5 302.0,83.1 299.9,83.6 298.3,84.1 297.3,84.6 302.6,85.1 299.2,85.6 300.9,86.1 296.1,86.6 297.1,87.1 295.6,87.6 302.6,88.1 301.2,88.6 297.1,89.1 304.9,89.6 298.8,90.1 300.2,90.6 297.4,91.1 298.5,91.6 304.3,92.1 299.0,92.7 297.1,93.2 300.4,93.7 298.5,94.2 304.5,94.7 296.2,95.2 305.3,95.7 295.8,96.2 304.6,96.7 302.4,97.2 297.7,97.8 300.6,98.3 298.7,98.8 298.5,99.3 298.0,99.8 299.8,100.3 306.5,100.8 306.8,101.2 306.2,101.7 297.8,102.2 300.0,102.6 306.5,103.1 297.9,103.5 305.1,104.0 300.8,104.5 308.1,104.9 298.3,105.4 306.8,105.9 302.2,106.3 300.5,106.8 299.3,107.3 308.3,107.7 305.4,108.2 302.1,108.7 305.0,109.1 310.3,109.6 303.6,109.8 307.7,110.0 303.7,110.2 304.6,110.4 311.3,110.6 311.2,110.8 306.3,111.0 305.6,111.1 306.1,111.3 312.1,111.5 311.4,111.7 309.6,111.9 310.1,112.1 313.8,112.3 315.1,112.5 316.3,112.9 314.8,113.2 312.1,113.6 311.4,114.0 317.1,114.3 314.9,114.7 317.8,115.0 312.8,115.4 319.2,115.8 315.8,116.1 320.2,116.5 320.8,116.9 318.2,117.2 314.7,117.6 322.2,118.0 319.1,118.3 322.6,118.7 318.1,119.1 317.8,119.4 323.4,119.8 319.5,120.3 317.8,120.9 319.4,121.4 321.1,122.0 316.2,122.5 320.3,123.1 319.6,123.6 320.3,124.1 317.3,124.6 322.3,125.1 323.3,125.7 323.9,126.2 319.7,126.7 323.0,127.2 320.6,127.7 324.0,127.8 319.0,128.0 323.7,128.1 324.3,128.3 323.9,128.4 324.4,128.6 325.0,128.7 325.4,128.8 324.9,129.0 327.3,129.1 326.3,129.3 326.7,129.4 327.0,129.5 327.8,129.7 329.4,129.8 328.3,130.0 328.9,130.1 330.6,130.3 330.1,130.4 330.2,130.5 331.9,130.7 332.4,130.8 332.8,130.9 333.6,131.0 332.9,131.2 335.0,131.3 335.2,131.4 334.3,131.5 335.0,131.7 336.2,131.8 336.8,131.9 336.8,132.0 337.0,132.2 338.1,132.3 338.1,132.4 339.5,132.5 340.5,132.7 339.6,132.8 340.9,132.9 341.8,133.1 341.1,133.2 342.9,133.4 343.6,133.6 342.9,133.7 343.5,133.9 344.8,134.1 344.6,134.2 344.9,134.4 346.4,134.6 346.6,134.7 346.2,134.9 346.4,135.1 347.1,135.2 347.8,135.4 355.1,135.9 352.5,136.5 354.1,137.0 352.6,137.5 353.1,138.0 341.2,138.6 348.2,139.1 354.8,139.6 354.4,140.1 344.1,140.7 346.7,141.2 350.0,141.7 346.0,142.2 348.5,142.7 341.7,143.2 347.2,143.8 348.3,144.3 341.1,144.8 343.0,145.3 355.5,145.8 352.6,146.3 355.4,146.6 351.3,147.0 354.3,147.3 355.8,147.6 356.2,148.0 343.8,148.3 353.3,148.6 348.1,149.0 354.7,149.3 348.4,149.8 352.2,150.2 357.7,150.7 352.9,151.1 347.1,151.6 350.9,152.0 349.4,152.5 356.9,152.9 346.7,153.4 347.0,153.9 352.1,154.4 344.2,154.9 351.3,155.4 356.7,155.9 350.1,156.5 346.4,157.0 349.4,157.5 350.4,158.0 344.6,158.5 344.5,159.0 344.8,159.5 347.4,160.0 349.3,160.5 347.8,161.0 347.3,161.5 345.2,162.0 352.3,162.5 356.9,163.0 353.6,163.5 353.4,163.9 354.9,164.3 348.4,164.7 356.4,165.1 352.9,165.6 354.5,166.0 355.8,166.4 353.9,166.8 351.9,167.2 351.1,167.6 351.2,167.9 356.0,168.2 354.5,168.6 358.0,168.9 349.8,169.2 355.3,169.5 363.4,169.9 354.5,170.2 359.7,170.5 359.1,170.8 356.4,171.2 367.4,171.5 357.4,171.8 360.9,172.1 358.6,172.4 357.9,172.6 359.8,172.9 358.1,173.2 356.5,173.5 357.0,173.8 356.7,174.0 357.2,174.3 354.8,174.6 354.7,174.8 356.4,174.9 355.3,175.1 353.0,175.3 353.1,175.5 352.7,175.7 353.2,175.8 352.5,176.0 352.7,176.2 352.2,176.3 350.8,176.5 350.9,176.7 350.5,176.9 350.0,177.1 348.7,177.2 349.2,177.4 348.4,177.5 348.6,177.6 345.7,177.7 347.4,177.9 344.3,178.0 346.1,178.1 345.1,178.2 344.3,178.3 345.2,178.4 343.6,178.6 342.6,178.7 343.2,178.8 343.0,178.9 341.7,179.0 340.5,179.1 340.2,179.3 339.8,179.4 340.1,179.5 338.3,179.6 338.1,179.7 338.1,179.8 337.1,179.9 336.4,180.0 337.3,180.1 336.9,180.2 335.4,180.3 334.7,180.4 333.5,180.5 333.3,180.7 332.3,180.8 333.1,180.9 332.6,181.0 330.7,181.1 332.7,181.2 330.4,181.3 331.4,181.4 330.9,181.5 330.8,181.6 328.0,181.8 328.2,182.0 329.2,182.3 326.0,182.5 325.7,182.7 326.8,182.9 326.1,183.1 326.9,183.3 326.0,183.6 324.8,183.8 325.7,184.0 324.5,184.5 324.7,184.9 325.5,185.4 324.8,185.9 325.0,186.4 326.0,186.8 325.4,187.3 327.8,187.6 327.3,188.0 327.3,188.3 326.4,188.6 327.7,188.9 328.2,189.2 329.2,189.6 329.6,189.9 331.1,190.2 331.8,190.5 330.8,190.8 331.1,191.0 332.2,191.3 333.8,191.6 332.2,191.9 333.2,192.2 334.5,192.5 332.8,192.9 333.7,193.2 336.2,193.5 336.1,193.8 335.5,194.1 334.7,194.4 337.6,194.8 337.3,195.1 338.1,195.4 338.4,195.8 337.8,196.2 336.0,196.7 334.9,197.1 335.0,197.5 335.4,197.9 335.1,198.3 333.8,198.7 333.5,199.2 334.7,199.6 334.3,200.0 333.2,200.4 335.0,200.9 333.6,201.3 331.4,201.8 332.3,202.3 333.3,202.7 331.4,203.2 332.4,203.6 329.9,204.1 330.6,204.6 332.1,205.0 331.0,205.5 331.0,206.0 329.3,206.4 330.1,206.9 330.1,207.4 329.0,207.8 330.0,208.3 329.5,208.7 330.8,209.2 329.2,209.7 328.5,210.1 327.4,210.6 327.3,211.1 329.1,211.6 326.9,212.1 326.7,212.6 326.7,213.1 327.7,213.6 328.5,214.1 327.7,214.6 328.1,215.1 325.6,215.6 325.3,216.1 327.7,216.6 326.1,217.1 327.3,217.6 326.0,218.1 325.3,218.5 325.6,219.0 324.9,219.5 327.4,220.0 326.3,220.5 325.4,221.0 325.7,221.5 325.4,222.0 324.3,222.5 326.9,223.0 325.9,223.5 327.0,224.0 325.3,224.5 325.8,225.0 324.6,225.5 323.9,226.0 326.6,226.5 326.3,227.0 324.9,227.5 327.0,228.0 327.0,228.4 325.6,228.9 326.9,229.4 328.3,229.9 327.1,230.3 328.8,230.8 326.8,231.3 327.0,231.8 327.8,232.3 326.0,232.8 326.0,233.3 327.6,233.8 326.1,234.3 326.8,234.8 325.2,235.3 324.7,235.6 324.6,235.9 323.9,236.2 324.8,236.6 323.3,236.9 323.3,237.2 322.2,237.5 322.5,237.8 321.9,238.1 321.5,238.5 320.6,238.8 320.3,239.1 321.0,239.4 319.8,239.6 319.1,239.8 318.6,240.0 318.2,240.2 317.7,240.4 316.9,240.5 317.4,240.7 316.4,240.9 315.6,241.1 316.0,241.3 314.6,241.5 314.4,241.7 314.8,241.9 313.2,242.1 313.2,242.3 313.3,242.4 312.8,242.6 311.3,242.8 311.1,243.0 311.2,243.2 310.2,243.4 310.6,243.5 309.0,243.7 309.7,243.8 308.5,244.0 307.5,244.1 307.4,244.3 306.4,244.4 306.8,244.6 305.6,244.7 306.2,244.9 305.2,245.0 304.4,245.2 303.7,245.3 303.8,245.5 302.7,245.6 303.2,245.8 301.5,245.9 301.7,246.1 301.2,246.2 300.3,246.4 300.6,246.5 299.5,246.7 299.5,247.0 298.9,247.2 298.0,247.4 297.7,247.7 296.7,247.9 296.4,248.1 297.0,248.3 295.7,248.6 295.8,248.8 294.4,249.0 294.7,249.3 293.9,249.5 294.3,250.0 294.1,250.5 294.0,251.1 294.5,251.6 294.6,252.1 294.6,252.6 295.9,252.9 295.6,253.3 296.2,253.6 297.4,253.9 297.5,254.3 298.1,254.6 298.4,254.9 297.6,255.3 298.2,255.6 297.8,256.1 298.8,256.6 298.7,257.1 298.1,257.7 298.1,258.2 298.5,258.7 299.0,258.9 298.8,259.1 300.3,259.4 300.0,259.6 300.9,259.8 300.7,260.0 301.1,260.3 302.9,260.5 303.1,260.7 303.1,261.2 302.2,261.7 302.3,262.2 302.6,262.7 302.7,263.2 303.0,263.7 303.4,264.1 303.2,264.6 304.0,265.0 304.9,265.5 304.5,265.9 305.8,266.4 305.9,266.6 306.7,266.8 306.4,267.1 307.2,267.3 308.2,267.5 308.1,267.8 308.1,268.0 309.9,268.2" fill="none" stroke="#1f77b4" stroke-width="1.0" stroke-linejoin="round" stroke-linecap="butt" stroke-opacity="0.30"/>
<polyline points="348.3,136.7 347.6,137.3 347.3,138.0 348.4,138.6 348.1,139.3 347.3,139.9 347.5,140.6 347.4,141.2 348.4,141.8 347.6,142.5 348.7,143.1 348.5,143.8 347.7,144.4 348.6,145.0 348.3,145.7 348.8,146.3 349.5,146.7 349.2,147.2 349.4,147.6 351.1,148.0 350.9,148.4 352.1,148.9 352.3,149.3 352.0,149.9 351.9,150.5 351.3,151.1 350.7,151.6 349.9,152.2 350.5,152.8 349.8,153.4 349.9,154.0 350.5,154.7 349.4,155.3 350.3,155.9 349.3,156.6 350.2,157.2 350.3,157.9 349.6,158.5 350.2,159.1 351.0,159.6 350.8,160.2 350.9,160.7 350.7,161.3 350.7,161.8 351.3,162.4 351.6,162.9 351.6,163.5 352.1,164.0 352.2,164.5 353.4,165.0 353.7,165.6 353.5,166.1 353.9,166.6 354.6,167.1 354.9,167.6 356.1,168.0 355.8,168.4 356.2,168.7 357.5,169.1 357.0,169.5 358.1,169.9 358.3,170.3 359.4,170.7" fill="none" stroke="#1f77b4" stroke-width="4.0" stroke-linejoin="round" stroke-linecap="butt" />
<polyline points="298.1,82.3 298.6,82.8 298.1,83.4 299.0,84.0 299.1,84.5 299.2,85.1 299.8,85.7 300.1,86.3 299.5,87.0 299.9,87.6 300.3,88.2 300.3,88.8 300.4,89.5 300.9,90.1 300.7,90.7 301.2,91.4 300.8,92.0 300.2,92.7 300.4,93.3 300.4,93.9 300.2,94.6 299.8,95.2 299.8,95.8 299.9,96.5 301.2,97.1 301.0,97.8 300.3,98.4 301.2,99.0 301.7,99.7 301.3,100.3 301.0,100.9 301.7,101.4 301.8,102.0 301.8,102.6 302.4,103.1 302.0,103.7 303.3,104.3 303.2,104.8 303.5,105.4 304.2,105.9 304.2,106.5 304.0,107.0 304.3,107.5 304.6,108.0 304.8,108.5 306.0,109.1 306.4,109.6 306.3,109.8 306.8,110.0 307.9,110.3 308.7,110.5 309.4,110.7 309.0,110.9 310.3,111.2 311.0,111.4 311.4,111.6 311.5,111.8 311.9,112.1 313.2,112.3 313.2,112.5 313.7,112.9 314.4,113.4 314.6,113.8 315.6,114.3 315.4,114.7 315.6,115.2 316.7,115.6 317.2,116.1 317.9,116.5 318.2,117.0 318.9,117.4 319.4,117.9 319.3,118.4 319.8,118.9 319.8,119.3 320.5,119.8 320.7,120.4 320.0,121.1 320.6,121.7 319.8,122.3 320.0,123.0 320.6,123.6 319.7,124.2 319.9,124.8 320.6,125.4 320.5,125.9 321.3,126.5" fill="none" stroke="#1f77b4" stroke-width="2.6" stroke-linejoin="round" stroke-linecap="butt" />
<polyline points="289.5,44.6 290.6,45.2 290.6,45.9 290.6,46.5 290.2,47.1 290.1,47.8 290.6,48.4 290.4,49.0 290.4,49.7 290.3,50.3 290.5,50.9 290.9,51.5 291.3,52.1 291.5,52.7 290.7,53.3 291.0,54.0 291.3,54.6 291.5,55.2 291.4,55.8 291.3,56.4 291.2,57.0 291.5,57.6 291.7,58.2 292.3,58.8 292.2,59.5 292.1,60.1 292.3,60.7 292.3,61.3 291.8,61.9 292.1,62.5 291.3,63.1 292.1,63.7 292.1,64.3 291.8,64.9 292.2,65.5 292.7,66.1 292.2,66.7 292.5,67.3 292.2,67.9 292.3,68.5 293.1,69.1 292.2,69.8 292.6,70.4 293.3,71.0 293.2,71.7 292.9,72.3 293.7,73.0 293.5,73.6 294.1,74.2 294.2,74.7 294.6,75.3 294.9,75.9 295.0,76.4 294.9,77.0 295.3,77.6 296.4,78.1 296.3,78.7 296.2,79.3 297.6,80.0 297.1,80.6 297.2,81.1 297.9,81.7" fill="none" stroke="#1f77b4" stroke-width="2.3" stroke-linejoin="round" stroke-linecap="butt" />
<polyline points="289.3,44.6 290.1,45.1 290.4,45.5 289.3,46.0 290.5,46.5 289.0,47.0 290.3,47.5 290.6,47.9 288.9,48.4 290.1,48.9 289.0,49.3 290.3,49.8 291.7,50.3 290.8,50.8 291.4,51.2 291.7,51.7 289.6,52.2 292.6,52.6 291.8,53.1 289.8,53.6 292.4,54.1 291.0,54.5 290.3,55.0 293.1,55.5 291.8,55.9 292.6,56.4 290.5,56.9 292.6,57.3 290.2,57.8 290.8,58.3 291.3,58.7 290.1,59.2 292.0,59.7 290.7,60.2 291.0,60.6 292.4,61.1 291.4,61.6 293.0,62.0 292.1,62.5 293.0,63.0 292.0,63.4 293.3,63.9 293.2,64.3 290.9,64.8 292.9,65.3 291.6,65.7 293.1,66.2 292.9,66.7 293.4,67.1 291.1,67.6 292.0,68.0 293.3,68.5 294.1,69.0 293.5,69.4 291.3,69.9 293.3,70.4 291.7,70.8 293.3,71.3 294.3,71.7 292.1,72.2 294.9,72.7 294.2,73.1 292.9,73.6 292.9,74.0 293.9,74.4 295.5,74.9 294.8,75.3 293.4,75.7 293.3,76.2 293.8,76.6 296.4,77.0 294.5,77.4 296.0,77.8 295.3,78.3 296.8,78.7 296.1,79.1 295.7,79.6 298.6,80.0 297.5,80.4 298.3,80.8 298.9,81.3 299.6,81.7 296.2,82.1 297.6,82.5 297.0,83.0 298.5,83.4 300.1,83.8 300.0,84.2 297.3,84.7 298.0,85.1 300.6,85.6 300.2,86.0 299.3,86.5 299.8,86.9 298.8,87.4 301.6,87.8 300.1,88.3 302.1,88.7 301.3,89.2 299.4,89.6 300.6,90.1 300.0,90.6 302.5,91.0 301.3,91.5 299.1,92.0 299.5,92.4 300.1,92.9 300.4,93.3 300.8,93.8 300.0,94.3 299.7,94.7 298.3,95.2 300.6,95.7 299.8,96.1 298.7,96.6 300.4,97.1 302.5,97.5 299.0,98.0 299.5,98.4 301.6,98.9 300.2,99.4 300.2,99.8 301.2,100.3 300.5,100.7 301.8,101.2 301.8,101.6 303.6,102.0 303.9,102.4 300.5,102.8 302.7,103.3 303.6,103.7 304.2,104.1 304.0,104.6 303.6,105.0 303.8,105.4 303.0,105.8 303.0,106.2 305.2,106.5 305.7,106.9 306.2,107.3 305.5,107.7 304.3,108.1 306.3,108.5 306.4,108.8 305.8,109.2 306.5,109.6 305.9,109.8 307.1,109.9 306.9,110.1 306.1,110.3 307.6,110.5 307.9,110.6 310.9,110.8 309.4,111.0 309.4,111.1 309.4,111.3 309.8,111.5 310.7,111.6 310.3,111.8 310.2,112.0 313.9,112.2 312.8,112.3 313.2,112.5 314.0,112.8 313.4,113.2 313.2,113.5 313.2,113.8 314.4,114.2 314.8,114.5 316.6,114.8 316.3,115.2 318.0,115.5 316.2,115.8 318.7,116.2 317.8,116.5 316.3,116.8 317.0,117.2 318.7,117.5 320.5,117.8 318.6,118.2 320.4,118.5 319.5,118.8 321.4,119.1 318.8,119.5 320.6,119.8 322.0,120.3 319.7,120.8 319.6,121.2 318.6,121.7 319.1,122.2 319.3,122.6 320.8,123.1 319.0,123.6 319.8,124.1 319.3,124.5 320.9,125.0 322.0,125.4 321.4,125.9 319.9,126.3 322.0,126.8 323.0,127.2 321.9,127.7 320.4,127.8 323.5,128.0 323.2,128.1 323.1,128.2 323.3,128.3 323.8,128.5 324.6,128.6 325.4,128.7 325.6,128.9 326.3,129.0 326.0,129.1 326.6,129.2 327.4,129.4 327.8,129.5 328.0,129.6 328.7,129.8 328.8,129.9 328.9,130.0 329.7,130.1 329.8,130.3 330.8,130.4 331.0,130.5 331.6,130.6 332.1,130.7 332.2,130.8 332.9,130.9 332.8,131.1 334.2,131.2 334.3,131.3 335.1,131.4 334.6,131.5 335.6,131.6 336.2,131.7 336.2,131.8 336.4,131.9 336.9,132.0 337.4,132.1 338.4,132.2 338.2,132.4 339.4,132.5 339.4,132.6 340.0,132.7 340.4,132.8 340.9,132.9 341.4,133.1 341.8,133.2 342.0,133.4 342.8,133.5 342.8,133.7 343.7,133.8 344.2,134.0 344.6,134.2 344.6,134.3 345.5,134.5 346.2,134.6 346.1,134.8 346.3,134.9 347.0,135.1 347.9,135.2 347.5,135.4 345.1,135.9 347.8,136.4 348.8,136.8 349.5,137.3 347.1,137.8 350.7,138.3 346.3,138.8 349.4,139.3 345.5,139.8 345.2,140.2 345.8,140.7 345.3,141.2 348.0,141.7 348.3,142.1 346.2,142.6 350.7,143.1 347.4,143.5 346.2,144.0 346.4,144.4 349.7,144.9 350.8,145.4 346.5,145.8 345.8,146.3 350.5,146.6 347.7,146.9 352.3,147.2 349.9,147.5 351.0,147.8 349.7,148.1 352.7,148.4 351.1,148.7 350.6,149.0 354.3,149.3 349.5,149.7 352.9,150.1 348.8,150.5 352.0,150.9 350.4,151.4 352.9,151.8 348.0,152.2 350.7,152.6 349.6,153.0 352.3,153.4 352.5,153.9 350.6,154.3 348.3,154.8 348.5,155.3 348.5,155.7 349.5,156.2 348.3,156.6 348.2,157.1 351.4,157.6 350.7,158.0 348.7,158.5 352.9,158.9 348.6,159.3 350.8,159.8 348.6,160.2 352.9,160.6 353.1,161.0 349.8,161.4 352.8,161.8 353.3,162.2 350.4,162.7 350.8,163.1 351.9,163.5 354.5,163.9 350.6,164.2 353.9,164.6 353.7,165.0 353.1,165.4 354.1,165.7 356.1,166.1 352.5,166.5 356.7,166.9 353.9,167.2 356.6,167.6 357.5,167.9 353.9,168.2 358.2,168.4 359.3,168.7 355.7,169.0 354.4,169.3 355.3,169.6 360.7,169.8 355.5,170.1 361.1,170.4 357.0,170.7 360.8,171.0 357.4,171.2 358.2,171.5 361.6,171.8 359.7,172.1 359.5,172.3 359.7,172.6 359.1,172.8 358.8,173.1 358.5,173.3 357.2,173.6 357.0,173.8 357.1,174.1 356.6,174.3 355.5,174.6 355.6,174.8 354.9,174.9 354.6,175.1 353.9,175.2 353.4,175.4 353.9,175.5 352.8,175.7 353.0,175.8 351.8,176.0 351.7,176.2 350.9,176.3 350.8,176.5 350.1,176.6 350.2,176.8 349.2,176.9 349.4,177.1 348.7,177.2 347.9,177.4 347.7,177.5 347.4,177.6 347.4,177.7 346.4,177.8 345.8,177.9 346.1,178.0 345.5,178.1 345.0,178.2 344.0,178.3 343.5,178.4 343.1,178.6 342.5,178.7 342.0,178.8 342.0,178.9 341.5,179.0 341.2,179.1 340.6,179.2 339.8,179.3 340.0,179.4 339.5,179.5 338.9,179.6 338.5,179.7 338.2,179.8 338.0,179.9 337.5,180.0 336.9,180.1 336.1,180.2 335.6,180.3 335.2,180.4 335.3,180.5 334.3,180.6 333.8,180.6 333.4,180.7 332.7,180.8 333.1,180.9 331.6,181.0 331.8,181.1 331.6,181.2 330.5,181.3 330.4,181.4 329.7,181.5 329.1,181.6 328.7,181.8 328.1,182.0 328.4,182.2 328.0,182.4 327.6,182.6 326.3,182.8 326.6,183.0 325.8,183.2 325.6,183.4 325.1,183.6 324.4,183.8 324.7,184.0 323.9,184.4 324.9,184.8 325.2,185.2 325.1,185.7 325.4,186.1 326.2,186.5 325.3,186.9 326.1,187.3 326.6,187.6 326.5,187.9 327.4,188.2 327.3,188.5 327.9,188.7 328.4,189.0 328.9,189.3 328.8,189.6 329.6,189.9 329.9,190.2 329.8,190.4 330.8,190.7 330.7,190.9 332.0,191.2 331.8,191.4 332.6,191.7 332.7,191.9 333.0,192.2 333.0,192.5 333.3,192.8 334.8,193.1 334.6,193.4 334.9,193.7 335.3,193.9 336.1,194.2 335.6,194.5 335.9,194.8 337.2,195.1 337.0,195.4 337.0,195.8 337.0,196.2 336.9,196.6 336.6,196.9 335.2,197.3 335.4,197.7 335.7,198.1 335.5,198.5 334.2,198.9 334.0,199.2 333.9,199.6 333.4,200.0 333.5,200.4 333.9,200.8 333.3,201.2 332.9,201.6 332.2,202.0 332.4,202.4 333.0,202.8 332.4,203.1 331.8,203.5 331.6,203.9 331.8,204.3 331.5,204.7 330.4,205.1 331.0,205.5 330.3,205.9 330.4,206.3 329.8,206.8 329.8,207.2 329.6,207.6 329.5,208.1 328.8,208.5 328.9,208.9 329.2,209.3 328.3,209.8 328.3,210.2 328.9,210.6 328.1,211.1 328.1,211.5 327.8,212.0 328.5,212.4 327.3,212.9 327.9,213.3 328.1,213.8 327.0,214.2 327.2,214.7 327.6,215.1 327.2,215.6 326.7,216.0 326.2,216.5 326.6,216.9 326.4,217.4 326.8,217.8 326.2,218.3 326.2,218.8 326.5,219.2 326.6,219.7 325.9,220.1 325.8,220.6 326.0,221.0 326.4,221.5 325.4,221.9 326.4,222.4 326.0,222.8 325.5,223.3 325.8,223.8 325.3,224.2 324.9,224.7 325.8,225.2 325.2,225.6 325.3,226.1 325.2,226.5 325.8,227.0 325.8,227.4 325.0,227.9 326.0,228.3 326.1,228.7 326.3,229.2 327.1,229.6 326.8,230.0 327.1,230.4 327.9,230.9 327.5,231.3 327.4,231.7 327.2,232.2 327.4,232.6 326.9,233.1 326.8,233.5 326.1,234.0 325.4,234.4 326.1,234.9 325.6,235.3 325.4,235.6 325.1,235.9 324.2,236.2 323.9,236.5 323.5,236.8 323.6,237.1 322.8,237.4 322.4,237.6 322.5,237.9 322.0,238.2 321.3,238.5 321.4,238.8 321.0,239.1 320.5,239.4 319.8,239.6 319.8,239.7 319.2,239.9 318.9,240.1 318.7,240.2 318.2,240.4 317.8,240.6 316.9,240.7 316.6,240.9 316.3,241.1 315.5,241.2 315.8,241.4 314.9,241.6 314.4,241.7 314.1,241.9 313.6,242.1 313.6,242.2 313.0,242.4 312.5,242.6 312.0,242.7 311.3,242.9 311.1,243.1 311.1,243.2 310.6,243.4 310.2,243.5 309.3,243.7 308.9,243.8 308.3,243.9 308.2,244.1 307.7,244.2 307.3,244.3 306.8,244.5 306.5,244.6 305.9,244.7 305.7,244.9 304.9,245.0 304.9,245.2 304.2,245.3 303.4,245.4 303.2,245.6 302.9,245.7 302.4,245.8 302.0,246.0 301.4,246.1 300.9,246.2 300.9,246.4 300.1,246.5 299.9,246.7 299.6,246.9 299.0,247.1 298.5,247.3 298.5,247.5 297.7,247.7 297.6,247.9 296.6,248.1 296.5,248.3 296.2,248.5 295.4,248.7 295.6,248.9 294.6,249.1 294.6,249.3 293.9,249.5 294.6,249.9 294.5,250.4 294.8,250.8 294.7,251.3 295.0,251.7 295.2,252.2 295.1,252.6 295.3,252.9 296.1,253.2 296.0,253.5 296.9,253.8 296.7,254.1 297.0,254.4 297.3,254.7 298.1,255.0 298.6,255.3 298.5,255.6 298.6,256.1 298.3,256.6 298.7,257.1 298.5,257.7 298.0,258.2 297.9,258.7 298.8,258.9 298.8,259.1 299.8,259.3 299.9,259.5 300.3,259.7 301.0,259.9 301.2,260.1 301.8,260.3 302.0,260.5 303.0,260.7 302.7,261.2 303.1,261.7 302.8,262.2 303.3,262.7 303.5,263.2 303.2,263.7 303.3,264.1 303.8,264.5 304.3,264.9 304.2,265.2 304.8,265.6 304.7,266.0 305.3,266.4 305.9,266.6 306.2,266.8 306.8,267.0 306.9,267.2 307.8,267.4 307.8,267.6 308.8,267.8 309.3,268.0 309.7,268.2" fill="none" stroke="#1f77b4" stroke-width="2.1" stroke-linejoin="round" stroke-linecap="butt" />
</g>
<g clip-path="url(#c3)">
<polygon points="414.0,73.2 412.8,74.2 413.9,75.5 415.2,76.5 416.0,77.5 417.3,78.0 417.7,78.5 419.0,79.0 420.3,79.5 421.1,80.0 422.0,80.5 422.7,81.0 423.7,81.5 424.8,82.0 426.3,82.7 427.3,83.3 427.8,84.0 427.3,85.5 425.6,85.9 425.1,86.2 424.4,86.6 422.9,87.0 422.2,87.5 420.9,88.1 419.2,88.6 420.6,88.9 421.8,89.3 422.7,89.7 424.2,90.0 424.7,90.4 426.2,90.8 426.8,91.1 427.7,91.5 428.5,92.5 428.7,93.5 428.5,94.8 428.2,96.0 427.3,97.2 426.4,98.3 427.2,98.9 428.8,99.4 429.7,100.0 431.1,100.3 431.7,100.7 433.1,101.0 433.9,101.3 434.9,101.7 436.1,102.0 436.8,102.5 437.9,102.9 439.7,103.4 440.3,103.8 441.8,104.3 442.5,105.1 442.9,105.9 443.3,106.8 444.0,107.6 445.3,108.4 444.6,109.4 444.8,110.5 444.8,111.5 444.4,112.5 445.2,113.4 445.6,114.2 446.5,115.1 447.0,116.0 447.4,116.9 447.8,117.8 448.5,118.8 448.9,119.7 449.4,120.6 450.2,121.4 451.4,122.1 451.8,122.9 452.8,123.7 452.7,124.5 454.2,125.2 454.5,126.0 455.5,126.8 456.0,127.7 456.9,128.5 457.3,129.4 458.4,130.2 458.7,131.1 459.5,131.9 459.2,132.9 459.4,134.0 459.4,135.1 459.1,136.1 459.5,137.1 458.8,138.2 459.4,139.4 459.3,140.6 459.9,141.8 460.2,143.0 459.2,143.2 457.6,143.3 456.8,143.5 456.1,143.7 455.4,143.8 453.6,144.0 453.1,144.1 452.2,144.3 451.3,144.5 449.9,144.6 449.2,144.8 448.0,144.9 447.3,145.1 445.6,145.2 445.4,145.4 444.5,146.4 444.0,147.3 444.7,147.7 445.8,148.2 447.2,148.6 448.1,148.8 448.7,148.9 449.9,149.1 450.7,149.3 451.8,149.5 452.8,149.6 453.9,149.8 455.4,150.3 456.5,150.9 457.3,151.4 457.3,152.4 457.4,153.4 457.8,154.4 458.1,155.5 458.1,156.5 458.2,157.5 458.2,158.5 458.9,159.5 459.4,160.5 459.7,161.5 459.4,162.5 460.3,163.5 460.1,164.6 460.2,165.6 461.0,166.7 460.9,167.7 461.1,168.8 460.8,169.8 461.3,170.8 461.2,171.9 461.1,172.9 460.9,173.9 460.9,175.0 460.7,176.0 459.9,176.8 459.1,177.7 458.8,178.5 458.1,179.3 457.5,180.2 456.3,181.0 456.0,181.6 454.8,182.1 454.2,182.7 452.7,183.2 452.5,183.8 451.4,184.3 450.1,184.8 449.7,185.4 448.4,185.9 447.5,186.5 446.9,187.4 446.0,188.4 445.4,189.4 445.0,190.3 444.3,191.3 443.8,192.3 443.1,193.4 442.9,194.4 442.4,195.4 441.7,196.4 441.8,197.4 441.5,198.4 441.0,199.4 440.6,200.5 440.9,201.5 440.9,202.5 440.6,203.5 441.0,204.5 441.4,205.5 441.5,206.5 441.0,207.5 441.6,208.5 441.9,209.8 442.7,211.0 445.9,211.0 446.5,209.8 447.1,208.5 447.1,207.5 447.9,206.5 448.4,205.5 448.8,204.5 449.6,203.5 449.8,202.5 450.1,201.6 450.6,200.8 451.7,199.9 452.0,199.0 452.8,198.1 453.4,197.3 453.8,196.4 454.0,195.5 454.8,194.7 455.4,193.8 456.5,192.9 456.6,192.0 457.4,191.2 458.2,190.3 457.5,189.0 458.1,187.8 457.7,186.5 458.5,185.6 458.7,184.7 459.4,183.8 460.2,182.8 460.2,181.9 460.6,181.0 461.6,180.2 462.1,179.3 462.5,178.5 463.0,177.7 463.8,176.8 463.9,176.0 464.2,175.0 464.6,173.9 464.6,172.9 464.9,171.9 464.7,170.8 465.1,169.8 464.4,168.8 464.3,167.7 464.7,166.7 464.0,165.6 463.9,164.6 463.6,163.5 463.2,162.5 463.1,161.5 462.7,160.5 462.2,159.5 462.5,158.5 461.6,157.5 461.4,156.5 461.8,155.5 461.7,154.4 461.0,153.4 460.8,152.4 460.4,151.4 461.7,150.6 462.7,149.8 464.2,149.5 464.7,149.2 466.3,148.9 467.0,148.6 467.7,147.3 467.9,145.4 467.2,144.3 466.0,143.7 464.6,143.0 463.9,141.8 463.7,140.6 463.7,139.4 463.4,138.2 463.6,137.1 463.2,136.1 463.5,135.1 463.7,134.0 463.7,132.9 464.0,131.9 462.8,131.1 462.2,130.2 461.2,129.4 460.9,128.5 459.8,127.7 459.3,126.8 458.7,126.0 458.3,124.9 457.9,123.8 458.2,122.8 458.1,121.7 457.6,120.6 457.9,119.4 457.6,118.3 456.6,117.2 456.4,116.0 455.9,114.8 456.2,113.7 456.0,112.5 455.5,111.5 454.9,110.5 454.0,109.4 453.5,108.4 452.9,107.6 452.4,106.8 451.0,105.9 451.1,105.1 449.9,104.3 449.0,103.8 448.3,103.4 447.1,102.9 446.0,102.5 444.9,102.0 444.1,101.6 443.1,101.2 441.9,100.8 441.4,100.4 440.0,100.0 438.9,99.2 437.3,98.3 436.9,97.2 436.3,96.0 436.8,94.8 436.9,93.5 437.8,92.5 438.8,91.5 439.6,91.2 440.4,90.9 441.7,90.6 442.7,90.3 444.2,90.0 445.1,89.8 446.6,89.5 447.0,89.3 448.0,89.1 449.5,88.8 450.3,88.6 449.8,88.3 448.3,88.1 447.9,87.8 446.5,87.5 445.9,87.3 444.5,87.0 443.3,86.7 442.6,86.4 441.3,86.1 440.4,85.8 438.8,85.5 438.1,84.8 437.9,84.0 437.1,83.0 436.7,82.0 436.3,81.2 434.6,80.3 434.1,79.5 432.7,78.8 432.2,78.2 431.1,77.5 430.0,77.0 429.2,76.5 427.8,76.0 426.7,75.5 425.8,75.2 425.1,75.0 424.3,74.7 422.9,74.5 421.8,74.2 420.9,74.0 420.0,73.8 419.1,73.6 417.9,73.4 417.2,73.2" fill="#1f77b4" fill-opacity="0.35" stroke="none"/>
<polygon points="408,68 411,67.2 427,68 411,69" fill="#1f77b4" fill-opacity="0.18"/>
<polygon points="409,72 411,71.4 420,72.4 411,73" fill="#1f77b4" fill-opacity="0.18"/>
<polyline points="401.9,43.8 402.6,44.7 402.1,45.7 401.9,46.6 403.0,47.5 402.6,48.4 402.6,49.4 402.9,50.3 403.6,51.2 402.9,52.0 403.5,52.9 403.5,53.8 404.3,54.7 404.8,55.5 405.6,56.4 405.6,57.3 405.7,58.2 405.7,59.1 406.2,60.0 406.0,60.8 407.1,61.7 407.3,62.6 407.6,63.5 406.2,64.5 406.5,65.5 406.3,66.5 405.5,67.5 405.7,68.5 405.8,69.5 405.8,70.5 406.0,71.5 406.0,72.6 406.5,73.6 405.6,74.6 406.8,75.4 407.3,76.3 407.6,77.1 407.6,77.9 407.7,78.7 408.9,79.6 409.7,80.4 409.1,81.4 409.3,82.3 409.6,83.2 409.7,84.2 410.8,85.1 411.5,86.1 411.1,87.1 410.4,88.1 410.8,89.2 409.8,90.2 410.8,91.2 410.0,92.2 409.8,93.1 411.0,93.9 410.6,94.8 411.0,95.7 411.0,96.6 411.8,97.4 412.3,98.3 413.4,98.9 413.1,99.5 414.7,100.2 415.1,100.8 415.9,101.4 416.8,102.0 417.5,102.7 418.2,103.3 419.2,103.9 419.8,104.5 420.9,105.2 421.4,105.8 422.6,106.4 423.4,106.8 424.0,107.2 424.6,107.6 425.8,108.0 426.2,108.4 427.3,108.8 428.0,109.2 428.7,109.6 429.8,110.0 430.6,110.4 431.1,111.1 431.6,111.9 432.2,112.6 432.8,113.3 433.2,114.0 434.1,114.8 434.7,115.5 434.9,116.5 435.1,117.5 435.0,118.6 435.5,119.6 435.3,120.6 436.1,121.4 436.5,122.1 437.2,122.9 437.9,123.7 438.5,124.4 439.0,125.2 439.6,125.9 440.2,126.6 441.0,127.3 441.6,128.0 442.2,128.7 443.1,129.4 443.7,130.1 443.9,131.0 444.0,131.9 444.6,132.8 444.5,133.6 444.8,134.5 445.2,135.4 445.6,136.3 445.9,137.2 445.7,138.2 445.8,139.2 445.7,140.2 445.5,141.2 445.4,142.2 444.1,142.6 443.3,143.0 442.2,143.5 441.7,143.9 440.7,144.3 439.8,144.5 438.7,144.7 437.9,144.9 436.9,145.1 436.2,145.3 435.5,145.5 434.3,145.7 433.3,145.9 433.8,146.8 434.4,147.7 435.6,148.0 436.4,148.3 437.1,148.6 437.8,148.8 438.7,149.1 439.6,149.4 440.7,149.7 441.3,150.5 442.2,151.3 442.9,152.1 443.5,152.8 444.0,153.6 444.9,154.4 444.8,155.3 445.2,156.2 445.7,157.1 446.0,157.9 446.2,158.8 446.5,159.7 446.7,160.6 447.5,161.5 447.5,162.5 447.8,163.5 447.9,164.5 447.7,165.6 448.0,166.6 447.9,167.6 448.3,168.6 448.1,169.6 447.6,170.6 447.4,171.7 447.3,172.7 447.3,173.7 446.5,174.4 445.5,175.0 445.1,175.7 444.3,176.4 443.4,177.0 442.4,177.7 442.0,178.2 441.1,178.7 440.1,179.2 439.5,179.8 438.9,180.3 438.3,180.8 437.3,181.3 436.7,181.8 435.8,182.7 435.1,183.6 434.7,184.5 434.0,185.3 433.3,186.2 433.1,187.0 432.4,187.8 431.9,188.6 431.6,189.5 431.1,190.3 430.9,191.2 430.7,192.0 430.4,192.9 430.0,193.8 430.1,194.7 429.5,195.5 429.5,196.4 429.3,197.4 429.3,198.4 429.1,199.4 428.7,200.5 428.8,201.5 428.7,202.5 428.4,203.5 428.3,204.5 428.7,205.5 428.6,206.4 428.4,207.4 428.6,208.4 429.0,209.4 428.7,210.3 428.9,211.3 429.1,212.3 429.2,213.3 429.2,214.2 429.4,215.2 429.1,216.2 429.2,217.1 429.7,218.1 429.7,219.1 429.4,220.0 429.5,221.0 429.6,221.9 429.9,222.8 429.5,223.7 429.7,224.6 429.8,225.5 429.6,226.4 429.8,227.3 429.4,228.2 429.3,229.1 429.3,230.0 429.4,230.9 428.9,231.9 429.1,232.8 428.8,233.8 428.3,234.7 428.4,235.6 427.9,236.6 427.8,237.5 427.4,238.5 427.5,239.4 427.0,240.1 426.5,240.9 425.4,241.6 425.3,242.3 424.6,243.0 424.1,243.8 423.4,244.5 422.6,244.9 421.7,245.4 420.9,245.8 419.6,246.3 418.7,246.8 418.1,247.2 417.1,247.7 416.2,248.1 415.2,248.7 414.7,249.3 413.4,249.9 413.0,250.5 413.7,251.3 414.2,252.1 414.8,252.8 415.8,253.6 416.3,254.4 417.1,255.2 417.7,256.0 418.8,256.8 419.3,257.6 419.6,258.5 419.8,259.3 420.4,260.1 420.8,261.0 421.1,261.9 421.1,262.7 421.4,263.6 421.6,264.5 422.0,265.4 421.9,266.4 422.3,267.3 422.6,268.2" fill="none" stroke="#ff7f0e" stroke-width="1.9" stroke-linejoin="round" stroke-linecap="butt" />
<polygon points="435.5,249.8 441,246.8 444,249.5 449,253.5 452.5,257.5 449,258 444,254.5 440,252.2" fill="#1f77b4" fill-opacity="0.2"/>
<polyline points="411.7,68.5 416.6,67.5" fill="none" stroke="#1f77b4" stroke-width="2.2" stroke-linejoin="round" stroke-linecap="butt" />
<polyline points="411.1,71.6 414.1,72.2" fill="none" stroke="#1f77b4" stroke-width="2.2" stroke-linejoin="round" stroke-linecap="butt" />
<polyline points="417.4,72.5 418.1,72.9 419.3,73.2 420.6,73.6 421.1,75.0 421.6,76.1 422.1,77.1 422.6,78.2 423.5,78.6 424.6,79.0 425.6,79.4 426.7,79.8 427.5,80.3 428.5,80.7 429.5,81.1 430.4,81.5 431.3,81.9 431.2,83.0 431.9,84.1 432.3,85.1 432.4,86.2 433.4,87.2 433.8,88.2 435.1,89.2 434.6,90.3 434.6,91.3 434.2,92.4 434.1,93.5 433.2,94.3 432.3,95.2 431.3,96.0 431.5,97.2 431.8,98.3 432.6,98.8 433.8,99.3 434.7,99.8 435.8,100.3 436.9,100.8 437.8,101.3 438.5,101.6 439.5,102.0 440.6,102.3 441.4,102.6 442.5,103.0 443.9,103.3 444.9,103.6 445.6,104.0 446.9,104.3 447.5,105.1 448.1,105.9 448.7,106.8 449.1,107.6 449.5,108.4 450.2,109.4 450.3,110.4 450.8,111.5 451.0,112.5 451.4,113.5 452.2,114.5 452.2,115.5 452.9,116.5 453.4,117.5 453.8,118.5 454.3,119.6 454.1,120.7 454.6,121.8 454.7,122.9 455.1,124.0 455.2,124.8 456.0,125.6 456.7,126.5 457.8,127.3 457.9,128.1 458.8,128.9 459.9,129.9 460.9,130.9 461.3,131.9 461.4,132.9 461.4,134.0 461.3,135.1 461.2,136.1 461.2,137.1 460.7,138.2 461.0,139.2 461.0,140.2 461.6,141.3 461.5,142.3 461.8,143.3 461.3,143.9 460.2,144.4 459.3,145.0 458.5,145.6 457.6,146.2 456.8,146.7 455.7,147.3 456.2,148.1 456.8,148.9 457.4,149.8 458.2,150.6 458.7,151.4 458.8,152.4 459.2,153.4 459.7,154.4 459.7,155.5 459.6,156.5 460.1,157.5 460.0,158.5 460.3,159.5 460.8,160.5 461.2,161.5 461.7,162.5 461.9,163.5 462.2,164.6 462.0,165.6 462.7,166.7 462.5,167.7 462.9,168.8 462.6,169.8 463.0,170.8 462.5,171.9 462.8,172.9 462.7,173.9 462.5,175.0 462.2,176.0 461.4,176.8 460.8,177.7 460.6,178.5 459.5,179.3 459.1,180.2 458.5,181.0 457.8,181.8 456.9,182.6 456.2,183.4 455.5,184.1 455.4,184.9 454.4,185.7 453.9,186.5 453.3,187.4 452.6,188.3 452.0,189.2 451.5,190.1 451.5,190.9 450.5,191.8 450.5,192.7 449.6,193.6 449.3,194.5 448.5,195.4 448.4,196.3 447.6,197.2 447.1,198.1 446.7,198.9 446.0,199.8 445.5,200.7 445.4,201.6 444.6,202.5 444.5,203.5 444.5,204.5 444.0,205.5 443.8,206.5 443.7,207.5 443.6,208.5 443.7,209.6 444.0,210.6 444.0,211.7 444.3,212.8 443.9,213.9 444.4,214.9 444.6,216.0 444.4,217.1 444.4,218.2 444.7,219.3 444.7,220.5 445.0,221.6 445.3,222.7 445.1,223.8 445.1,224.9 445.4,226.0 445.3,227.1 445.4,228.1 445.6,229.2 445.5,230.3 445.5,231.3 445.7,232.3 445.8,233.3 446.2,234.4 446.0,235.4 445.7,236.4 445.9,237.4 446.2,238.4 446.0,239.4 446.0,240.4 445.9,241.4 445.7,242.4 445.1,243.4 444.8,244.1 443.8,244.8 442.9,245.5 442.1,246.2 441.8,246.9 440.7,247.7 439.8,248.4 439.2,249.2 438.9,249.9 439.6,250.6 440.7,251.2 441.3,251.9 442.6,252.6 443.5,253.2 444.5,253.8 445.8,254.4 446.6,255.0 447.5,255.6 448.6,256.6 448.9,257.6 449.4,258.7 449.9,259.7 450.9,260.7 451.0,261.8 450.8,262.8 451.2,263.9 451.5,265.0 451.5,266.1 451.5,267.1 451.8,268.2" fill="none" stroke="#1f77b4" stroke-width="2.2" stroke-linejoin="round" stroke-linecap="butt" />
</g>
<rect x="23.7" y="35.6" width="94.0" height="232.6" fill="none" stroke="#3c3c3c" stroke-width="0.7"/>
<rect x="136.5" y="35.6" width="93.7" height="232.6" fill="none" stroke="#3c3c3c" stroke-width="0.7"/>
<rect x="288.3" y="35.6" width="93.7" height="232.6" fill="none" stroke="#3c3c3c" stroke-width="0.7"/>
<rect x="401.0" y="35.6" width="93.4" height="232.6" fill="none" stroke="#3c3c3c" stroke-width="0.7"/>
<rect x="27.2" y="39.3" width="87.0" height="14.0" rx="1.5" fill="#fff" fill-opacity="0.8" stroke="#ebebeb" stroke-width="0.6"/><line x1="30.6" y1="46.6" x2="48.6" y2="46.6" stroke="#1f77b4" stroke-width="1.7"/><text x="54.9" y="49.6" font-size="8.35" font-family="DejaVu Sans, Liberation Sans, sans-serif" font-weight="bold" fill="#111" stroke="#111" stroke-width="0.2">CE376 Klett</text>
<rect x="170.0" y="39.3" width="56.5" height="28.4" rx="1.5" fill="#fff" fill-opacity="0.8" stroke="#ebebeb" stroke-width="0.6"/><line x1="173.3" y1="46.8" x2="191.2" y2="46.8" stroke="#1f77b4" stroke-width="1.7"/><text x="197.6" y="49.8" font-size="8.35" font-family="DejaVu Sans, Liberation Sans, sans-serif" font-weight="bold" fill="#111" stroke="#111" stroke-width="0.2">PLDR</text><line x1="173.3" y1="59.4" x2="191.2" y2="59.4" stroke="#ff7f0e" stroke-width="1.7"/><text x="197.6" y="62.4" font-size="8.35" font-family="DejaVu Sans, Liberation Sans, sans-serif" font-weight="bold" fill="#111" stroke="#111" stroke-width="0.2">VLDR</text>
<rect x="291.8" y="39.3" width="87.3" height="14.0" rx="1.5" fill="#fff" fill-opacity="0.8" stroke="#ebebeb" stroke-width="0.6"/><line x1="295.2" y1="46.6" x2="313.4" y2="46.6" stroke="#1f77b4" stroke-width="1.7"/><text x="320.1" y="49.6" font-size="8.35" font-family="DejaVu Sans, Liberation Sans, sans-serif" font-weight="bold" fill="#111" stroke="#111" stroke-width="0.2">PollyXT Klett</text>
<rect x="434.5" y="39.3" width="56.3" height="28.4" rx="1.5" fill="#fff" fill-opacity="0.8" stroke="#ebebeb" stroke-width="0.6"/><line x1="437.6" y1="46.8" x2="455.4" y2="46.8" stroke="#1f77b4" stroke-width="1.7"/><text x="461.9" y="49.8" font-size="8.35" font-family="DejaVu Sans, Liberation Sans, sans-serif" font-weight="bold" fill="#111" stroke="#111" stroke-width="0.2">PLDR</text><line x1="437.6" y1="59.4" x2="455.4" y2="59.4" stroke="#ff7f0e" stroke-width="1.7"/><text x="461.9" y="62.4" font-size="8.35" font-family="DejaVu Sans, Liberation Sans, sans-serif" font-weight="bold" fill="#111" stroke="#111" stroke-width="0.2">VLDR</text>
<text x="22.1" y="271.6" font-size="9.9" text-anchor="end" font-family="DejaVu Sans, Liberation Sans, sans-serif" font-weight="bold" fill="#111" stroke="#111" stroke-width="0.2">1</text>
<text x="22.1" y="225.1" font-size="9.9" text-anchor="end" font-family="DejaVu Sans, Liberation Sans, sans-serif" font-weight="bold" fill="#111" stroke="#111" stroke-width="0.2">2</text>
<text x="22.1" y="178.6" font-size="9.9" text-anchor="end" font-family="DejaVu Sans, Liberation Sans, sans-serif" font-weight="bold" fill="#111" stroke="#111" stroke-width="0.2">3</text>
<text x="22.1" y="132.0" font-size="9.9" text-anchor="end" font-family="DejaVu Sans, Liberation Sans, sans-serif" font-weight="bold" fill="#111" stroke="#111" stroke-width="0.2">4</text>
<text x="22.1" y="85.5" font-size="9.9" text-anchor="end" font-family="DejaVu Sans, Liberation Sans, sans-serif" font-weight="bold" fill="#111" stroke="#111" stroke-width="0.2">5</text>
<text x="22.1" y="39.0" font-size="9.9" text-anchor="end" font-family="DejaVu Sans, Liberation Sans, sans-serif" font-weight="bold" fill="#111" stroke="#111" stroke-width="0.2">6</text>
<text x="25.5" y="277.6" font-size="9.9" text-anchor="middle" font-family="DejaVu Sans, Liberation Sans, sans-serif" font-weight="bold" fill="#111" stroke="#111" stroke-width="0.2">0</text>
<text x="62.4" y="277.6" font-size="9.9" text-anchor="middle" font-family="DejaVu Sans, Liberation Sans, sans-serif" font-weight="bold" fill="#111" stroke="#111" stroke-width="0.2">100</text>
<text x="99.3" y="277.6" font-size="9.9" text-anchor="middle" font-family="DejaVu Sans, Liberation Sans, sans-serif" font-weight="bold" fill="#111" stroke="#111" stroke-width="0.2">200</text>
<text x="136.5" y="277.6" font-size="9.9" text-anchor="middle" font-family="DejaVu Sans, Liberation Sans, sans-serif" font-weight="bold" fill="#111" stroke="#111" stroke-width="0.2">0</text>
<text x="174.0" y="277.6" font-size="9.9" text-anchor="middle" font-family="DejaVu Sans, Liberation Sans, sans-serif" font-weight="bold" fill="#111" stroke="#111" stroke-width="0.2">20</text>
<text x="211.5" y="277.6" font-size="9.9" text-anchor="middle" font-family="DejaVu Sans, Liberation Sans, sans-serif" font-weight="bold" fill="#111" stroke="#111" stroke-width="0.2">40</text>
<text x="70.7" y="288.3" font-size="10.0" text-anchor="middle" font-family="DejaVu Sans, Liberation Sans, sans-serif" font-weight="bold" fill="#111" stroke="#111" stroke-width="0.2">Extinction [Mm-1]</text>
<text x="183.3" y="288.3" font-size="10.0" text-anchor="middle" font-family="DejaVu Sans, Liberation Sans, sans-serif" font-weight="bold" fill="#111" stroke="#111" stroke-width="0.2">PLDR|VLDR [%]</text>
<text transform="translate(12.4,151.9) rotate(-90)" font-size="10.0" text-anchor="middle" font-family="DejaVu Sans, Liberation Sans, sans-serif" font-weight="bold" fill="#111" stroke="#111" stroke-width="0.2">Height ASL [km]</text>
<text x="121.7" y="13.35" font-size="12.0" text-anchor="middle" font-family="DejaVu Sans, Liberation Sans, sans-serif" font-weight="bold" fill="#111" stroke="#111" stroke-width="0.2">2022-06-24</text>
<text x="125.7" y="27.3" font-size="12.0" text-anchor="middle" font-family="DejaVu Sans, Liberation Sans, sans-serif" font-weight="bold" fill="#111" stroke="#111" stroke-width="0.2">16:00-19:00 UTC</text>
<text x="286.7" y="271.6" font-size="9.9" text-anchor="end" font-family="DejaVu Sans, Liberation Sans, sans-serif" font-weight="bold" fill="#111" stroke="#111" stroke-width="0.2">1</text>
<text x="286.7" y="225.1" font-size="9.9" text-anchor="end" font-family="DejaVu Sans, Liberation Sans, sans-serif" font-weight="bold" fill="#111" stroke="#111" stroke-width="0.2">2</text>
<text x="286.7" y="178.6" font-size="9.9" text-anchor="end" font-family="DejaVu Sans, Liberation Sans, sans-serif" font-weight="bold" fill="#111" stroke="#111" stroke-width="0.2">3</text>
<text x="286.7" y="132.0" font-size="9.9" text-anchor="end" font-family="DejaVu Sans, Liberation Sans, sans-serif" font-weight="bold" fill="#111" stroke="#111" stroke-width="0.2">4</text>
<text x="286.7" y="85.5" font-size="9.9" text-anchor="end" font-family="DejaVu Sans, Liberation Sans, sans-serif" font-weight="bold" fill="#111" stroke="#111" stroke-width="0.2">5</text>
<text x="286.7" y="39.0" font-size="9.9" text-anchor="end" font-family="DejaVu Sans, Liberation Sans, sans-serif" font-weight="bold" fill="#111" stroke="#111" stroke-width="0.2">6</text>
<text x="290.1" y="277.6" font-size="9.9" text-anchor="middle" font-family="DejaVu Sans, Liberation Sans, sans-serif" font-weight="bold" fill="#111" stroke="#111" stroke-width="0.2">0</text>
<text x="326.9" y="277.6" font-size="9.9" text-anchor="middle" font-family="DejaVu Sans, Liberation Sans, sans-serif" font-weight="bold" fill="#111" stroke="#111" stroke-width="0.2">100</text>
<text x="363.6" y="277.6" font-size="9.9" text-anchor="middle" font-family="DejaVu Sans, Liberation Sans, sans-serif" font-weight="bold" fill="#111" stroke="#111" stroke-width="0.2">200</text>
<text x="401.0" y="277.6" font-size="9.9" text-anchor="middle" font-family="DejaVu Sans, Liberation Sans, sans-serif" font-weight="bold" fill="#111" stroke="#111" stroke-width="0.2">0</text>
<text x="438.4" y="277.6" font-size="9.9" text-anchor="middle" font-family="DejaVu Sans, Liberation Sans, sans-serif" font-weight="bold" fill="#111" stroke="#111" stroke-width="0.2">20</text>
<text x="475.7" y="277.6" font-size="9.9" text-anchor="middle" font-family="DejaVu Sans, Liberation Sans, sans-serif" font-weight="bold" fill="#111" stroke="#111" stroke-width="0.2">40</text>
<text x="335.1" y="288.3" font-size="10.0" text-anchor="middle" font-family="DejaVu Sans, Liberation Sans, sans-serif" font-weight="bold" fill="#111" stroke="#111" stroke-width="0.2">Extinction [Mm-1]</text>
<text x="447.7" y="288.3" font-size="10.0" text-anchor="middle" font-family="DejaVu Sans, Liberation Sans, sans-serif" font-weight="bold" fill="#111" stroke="#111" stroke-width="0.2">PLDR|VLDR [%]</text>
<text transform="translate(277.0,151.9) rotate(-90)" font-size="10.0" text-anchor="middle" font-family="DejaVu Sans, Liberation Sans, sans-serif" font-weight="bold" fill="#111" stroke="#111" stroke-width="0.2">Height ASL [km]</text>
<text x="386.3" y="13.35" font-size="12.0" text-anchor="middle" font-family="DejaVu Sans, Liberation Sans, sans-serif" font-weight="bold" fill="#111" stroke="#111" stroke-width="0.2">2022-06-24</text>
<text x="390.3" y="27.3" font-size="12.0" text-anchor="middle" font-family="DejaVu Sans, Liberation Sans, sans-serif" font-weight="bold" fill="#111" stroke="#111" stroke-width="0.2">16:00-19:00 UTC</text>
<text x="289.5" y="22.2" font-size="17.3" textLength="20.7" lengthAdjust="spacingAndGlyphs" font-family="Liberation Sans, sans-serif" font-weight="bold" fill="#000" stroke="#000" stroke-width="0.25">(b)</text>
</svg>
</body></html>
